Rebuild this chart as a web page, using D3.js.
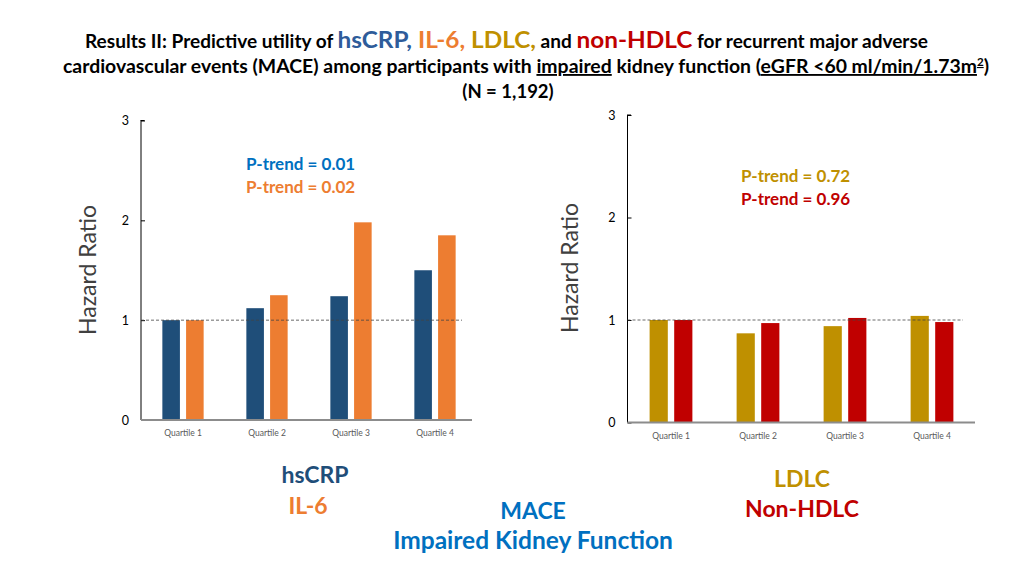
<!DOCTYPE html>
<html><head><meta charset="utf-8">
<script src="https://cdn.jsdelivr.net/npm/d3@7"></script>
<style>
html,body{margin:0;padding:0;background:#fff;}
svg{display:block;font-family:Lato, "Open Sans", sans-serif;}
</style></head>
<body>
<svg id="c" width="1024" height="576"></svg>
<script>
const categories = ["Quartile 1","Quartile 2","Quartile 3","Quartile 4"];
const hsCRP = [1.00, 1.12, 1.24, 1.50];
const IL6   = [1.00, 1.25, 1.98, 1.85];
const LDLC  = [1.00, 0.87, 0.94, 1.04];
const nonHDLC = [1.00, 0.97, 1.02, 0.98];
const yTicks = [0, 1, 2, 3];
const pLeft = ["P-trend = 0.01", "P-trend = 0.02"];
const pRight = ["P-trend = 0.72", "P-trend = 0.96"];

const svg = d3.select("#c");

// Title
const title = svg.append("g").attr("font-weight", "bold").attr("fill", "#000");
const t1 = title.append("text").attr("x", 85).attr("y", 48).attr("font-size", 18)
  .attr("textLength", 843).attr("lengthAdjust", "spacingAndGlyphs");
t1.append("tspan").text("Results II: Predictive utility of ");
t1.append("tspan").attr("fill", "#2E5C9A").attr("font-size", 23).text("hsCRP,");
t1.append("tspan").attr("fill", "#ED7D31").attr("font-size", 23).text(" IL-6,");
t1.append("tspan").attr("fill", "#BF9000").attr("font-size", 23).text(" LDLC,");
t1.append("tspan").text(" and ");
t1.append("tspan").attr("fill", "#C00000").attr("font-size", 23).text("non-HDLC");
t1.append("tspan").text(" for recurrent major adverse");

const t2 = title.append("text").attr("x", 63).attr("y", 73).attr("font-size", 18.5)
  .attr("textLength", 926).attr("lengthAdjust", "spacingAndGlyphs");
t2.append("tspan").text("cardiovascular events (MACE) among participants with ");
t2.append("tspan").attr("text-decoration", "underline").text("impaired");
t2.append("tspan").text(" kidney function (");
t2.append("tspan").attr("text-decoration", "underline").text("eGFR  <60 ml/min/1.73m");
t2.append("tspan").attr("text-decoration", "underline").attr("font-size", 11).attr("dy", -7).text("2");
t2.append("tspan").attr("dy", 7).text(")");

title.append("text").attr("x", 508).attr("y", 98).attr("font-size", 18.5)
  .attr("text-anchor", "middle").text("(N = 1,192)");

function panel(cfg) {
  const g = svg.append("g");
  const x = d3.scaleBand().domain(categories).range([cfg.x0, cfg.x1]);
  const inner = d3.scaleBand().domain([0, 1]).range([0, x.bandwidth()]).paddingInner(0.26).paddingOuter(0.9);
  const y = d3.scaleLinear().domain([0, 3]).range([cfg.yb, cfg.yt]);

  // y axis
  const ya = g.append("g").attr("transform", `translate(${cfg.x0},0)`)
    .call(d3.axisLeft(y).tickValues(yTicks).tickFormat(d3.format("d")).tickSize(-4).tickPadding(12));
  ya.select(".domain").attr("stroke", "#000").attr("stroke-width", 1).attr("d", `M-0.5,${cfg.yt}H3.5M0,${cfg.yt}V${cfg.yb}`);
  ya.selectAll(".tick line").attr("stroke", "#000");
  ya.selectAll(".tick text").attr("font-size", 12.5).attr("fill", "#000").attr("font-family", "Lato, sans-serif");

  // bars
  const series = [cfg.s1, cfg.s2];
  series.forEach((vals, si) => {
    g.append("g").selectAll("rect").data(vals).join("rect")
      .attr("x", (d, i) => x(categories[i]) + inner(si))
      .attr("width", inner.bandwidth())
      .attr("y", d => y(d))
      .attr("height", d => y(0) - y(d))
      .attr("fill", cfg.colors[si]);
  });

  // reference line at 1
  g.append("line").attr("x1", cfg.x0).attr("x2", cfg.dashEnd)
    .attr("y1", y(1)).attr("y2", y(1))
    .attr("stroke", "#444").attr("stroke-width", 0.8).attr("stroke-dasharray", "3,2");

  // x axis
  const xa = g.append("g").attr("transform", `translate(0,${cfg.yb})`)
    .call(d3.axisBottom(x).tickSize(0).tickPadding(10));
  xa.select(".domain").attr("stroke", "#8c8c8c").attr("stroke-width", 2)
    .attr("d", `M${cfg.x0},0H${cfg.axisEnd}`);
  xa.selectAll(".tick text").attr("font-size", 8.5).attr("fill", "#595959").attr("font-family", "Lato, sans-serif");

  // axis title
  g.append("text").attr("transform", `translate(${cfg.hrX},${cfg.hrY}) rotate(-90)`)
    .attr("text-anchor", "middle").attr("font-size", 23).attr("fill", "#404040")
    .text("Hazard Ratio");

  // p-trend
  cfg.p.forEach((t, i) => {
    g.append("text").attr("x", cfg.px).attr("y", cfg.py + i * 23)
      .attr("font-size", 17).attr("font-weight", "bold").attr("fill", cfg.pColors[i]).text(t);
  });
}

panel({x0: 141, x1: 477, yb: 420, yt: 120.5, axisEnd: 472, dashEnd: 462,
  s1: hsCRP, s2: IL6, colors: ["#1F4E79", "#ED7D31"],
  hrX: 96, hrY: 270, p: pLeft, pColors: ["#0070C0", "#ED7D31"], px: 246, py: 170});
panel({x0: 627.5, x1: 975.5, yb: 422.5, yt: 115, axisEnd: 975, dashEnd: 963,
  s1: LDLC, s2: nonHDLC, colors: ["#BF9000", "#C00000"],
  hrX: 578, hrY: 268, p: pRight, pColors: ["#BF9000", "#C00000"], px: 741, py: 182});

// bottom labels
const lab = svg.append("g").attr("font-weight", "bold").attr("text-anchor", "middle").attr("font-size", 23);
lab.append("text").attr("x", 315).attr("y", 483).attr("fill", "#1F4E79").text("hsCRP");
lab.append("text").attr("x", 308).attr("y", 514).attr("fill", "#ED7D31").text("IL-6");
lab.append("text").attr("x", 802).attr("y", 487).attr("fill", "#BF9000").text("LDLC");
lab.append("text").attr("x", 802).attr("y", 517).attr("fill", "#C00000").text("Non-HDLC");
lab.append("text").attr("x", 533).attr("y", 519).attr("fill", "#0070C0").text("MACE");
lab.append("text").attr("x", 533).attr("y", 549).attr("fill", "#0070C0").attr("font-size", 24.5).text("Impaired Kidney Function");
</script>
</body></html>
